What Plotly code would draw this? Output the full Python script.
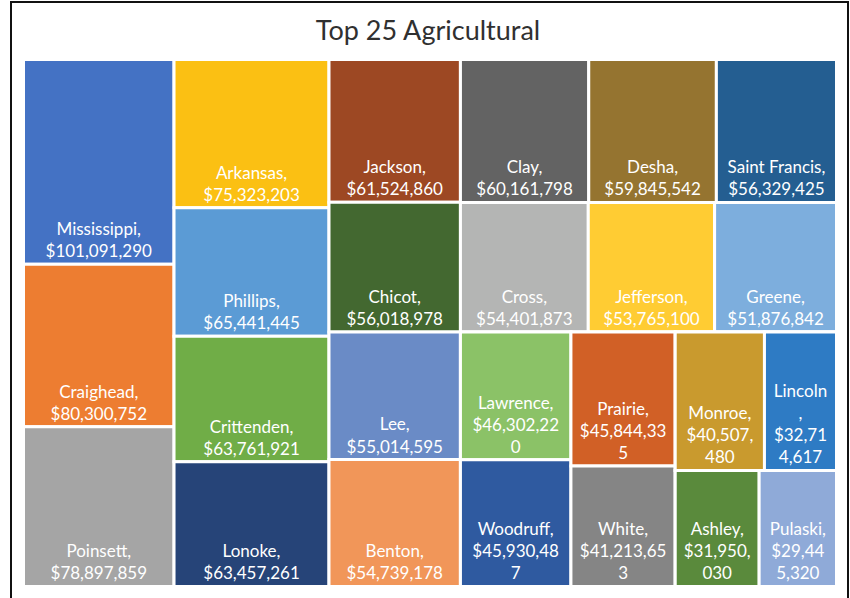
import plotly.graph_objects as go

# ---- data -------------------------------------------------------------
counties = ["Mississippi", "Craighead", "Poinsett", "Arkansas", "Phillips",
            "Crittenden", "Lonoke", "Jackson", "Clay", "Desha", "Saint Francis",
            "Chicot", "Lee", "Benton", "Cross", "Jefferson", "Greene",
            "Lawrence", "Woodruff", "Prairie", "White", "Monroe", "Ashley",
            "Lincoln", "Pulaski"]
values = [101091290, 80300752, 78897859, 75323203, 65441445,
          63761921, 63457261, 61524860, 60161798, 59845542, 56329425,
          56018978, 55014595, 54739178, 54401873, 53765100, 51876842,
          46302220, 45930487, 45844335, 41213653, 40507480, 31950030,
          32714617, 29445320]
# label text as wrapped in the original picture
labels = ["Mississippi,<br>$101,091,290", "Craighead,<br>$80,300,752",
          "Poinsett,<br>$78,897,859", "Arkansas,<br>$75,323,203",
          "Phillips,<br>$65,441,445", "Crittenden,<br>$63,761,921",
          "Lonoke,<br>$63,457,261", "Jackson,<br>$61,524,860",
          "Clay,<br>$60,161,798", "Desha,<br>$59,845,542",
          "Saint Francis,<br>$56,329,425", "Chicot,<br>$56,018,978",
          "Lee,<br>$55,014,595", "Benton,<br>$54,739,178",
          "Cross,<br>$54,401,873", "Jefferson,<br>$53,765,100",
          "Greene,<br>$51,876,842", "Lawrence,<br>$46,302,22<br>0",
          "Woodruff,<br>$45,930,48<br>7", "Prairie,<br>$45,844,33<br>5",
          "White,<br>$41,213,65<br>3", "Monroe,<br>$40,507,<br>480",
          "Ashley,<br>$31,950,<br>030", "Lincoln<br>,<br>$32,71<br>4,617",
          "Pulaski,<br>$29,44<br>5,320"]
# grouping of the tiles (blocks of the original tiling)
county_group = ["c1", "c1", "c1", "c2", "c2", "c2", "c2", "c3", "r1", "r1", "r1",
                "c3", "c3", "c3", "r2", "r2", "r2", "g1", "g1", "g2", "g2",
                "h1", "h2", "h1", "h2"]
group_ids = ["root", "c1", "c2", "c3", "c4", "r1", "r2", "r3", "g1", "g2", "g3", "h1", "h2"]
group_parents = ["", "root", "root", "root", "root", "c4", "c4", "c4", "r3", "r3", "r3", "g3", "g3"]

colors = ["#4472C4", "#ED7D31", "#A5A5A5", "#FBC013", "#5B9BD5",
          "#70AD47", "#264478", "#9D4823", "#636363", "#957430", "#245E91",
          "#436830", "#6A8BC6", "#F19659", "#B4B5B4", "#FFCC33", "#7DAEDD",
          "#8BC267", "#2F5AA0", "#D16026", "#858585", "#C99A2E", "#5A8A3C",
          "#2E7BC4", "#8FAAD8"]

title_text = "Top 25 Agricultural"

# ---- build hierarchy --------------------------------------------------
order = [0, 1, 2, 3, 4, 5, 6, 7, 11, 12, 13, 8, 9, 10, 14, 15, 16,
         17, 18, 19, 20, 21, 23, 22, 24]
ids = list(group_ids) + [counties[i] for i in order]
parents = list(group_parents) + [county_group[i] for i in order]
vals = [0] * len(group_ids) + [values[i] for i in order]
texts = [""] * len(group_ids) + [labels[i] for i in order]
cols = ["#FFFFFF"] * len(group_ids) + [colors[i] for i in order]

W, H = 850, 598

fig = go.Figure(go.Treemap(
    ids=ids,
    labels=ids,
    parents=parents,
    values=vals,
    text=texts,
    branchvalues="remainder",
    sort=False,
    textinfo="text",
    texttemplate="%{text}",
    textposition="bottom center",
    textfont=dict(family="Lato", size=17, color="#FFFFFF"),
    marker=dict(colors=cols, line=dict(color="#FFFFFF", width=3),
                pad=dict(t=0, l=0, r=0, b=0), depthfade=False),
    tiling=dict(packing="slice-dice", pad=0),
    pathbar=dict(visible=False),
    hoverinfo="skip",
    domain=dict(x=[23.5 / W, 836.5 / W], y=[1 - 586.5 / H, 1 - 59.5 / H]),
))

fig.update_layout(
    width=W, height=H,
    margin=dict(l=0, r=0, t=0, b=0),
    paper_bgcolor="#FFFFFF",
    uniformtext=dict(minsize=17, mode="show"),
    title=dict(text=title_text, x=428 / W, xanchor="center",
               y=1 - 31 / H, yanchor="middle", yref="container",
               font=dict(family="Lato", size=27, color="#303030")),
    shapes=[dict(type="rect", xref="paper", yref="paper",
                 x0=11 / W, x1=848 / W, y0=-0.02, y1=1 - 2 / H,
                 line=dict(color="#111111", width=2))],
)

fig.write_html("out.html", config={"displayModeBar": False},
               post_script="document.body.style.margin='0px';")
